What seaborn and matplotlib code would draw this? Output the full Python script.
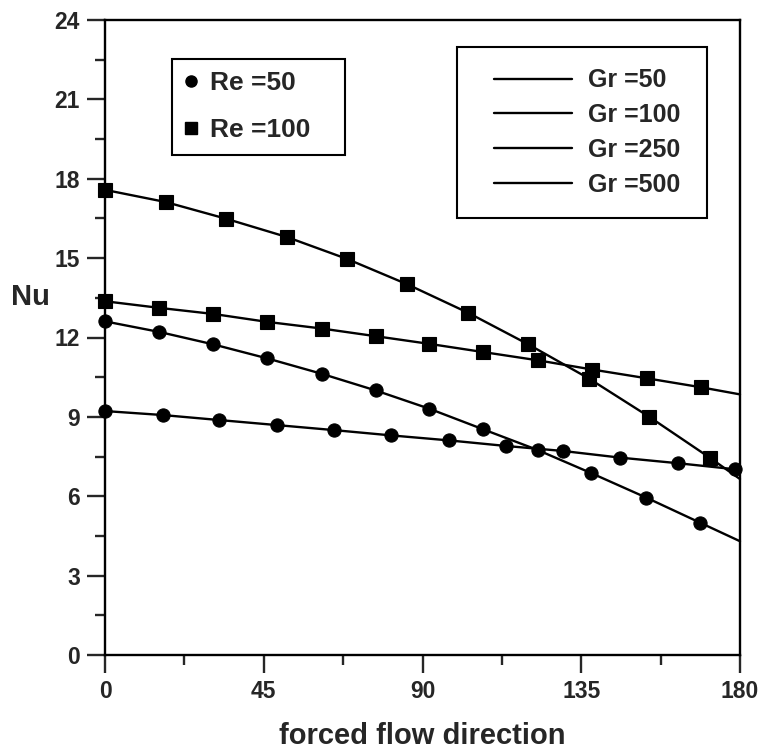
import numpy as np
import pandas as pd
import matplotlib
matplotlib.use('Agg')
import matplotlib.pyplot as plt
import seaborn as sns
from matplotlib.lines import Line2D
from matplotlib.legend_handler import HandlerLine2D
from matplotlib.ticker import MultipleLocator

# Re = 100 (squares), upper curve
sq_hi_x = [0, 17.2, 34.3, 51.5, 68.6, 85.7, 103, 120, 137.3, 154.3, 171.5, 180]
sq_hi_y = [17.58, 17.12, 16.49, 15.8, 14.97, 14.01, 12.93, 11.74, 10.44, 9.0, 7.45, 6.65]

# Re = 100 (squares), lower curve
sq_lo_x = [0, 15.4, 30.7, 46.0, 61.4, 76.7, 91.9, 107.2, 122.6, 138.1, 153.5, 168.9, 180]
sq_lo_y = [13.37, 13.12, 12.89, 12.59, 12.34, 12.05, 11.76, 11.45, 11.14, 10.79, 10.46, 10.12, 9.85]

# Re = 50 (circles), upper curve
ci_hi_x = [0, 15.4, 30.7, 46.0, 61.4, 76.7, 91.9, 107.2, 122.6, 137.9, 153.4, 168.7, 180]
ci_hi_y = [12.61, 12.21, 11.74, 11.21, 10.63, 10.0, 9.31, 8.53, 7.75, 6.87, 5.95, 5.0, 4.3]

# Re = 50 (circles), lower curve
ci_lo_x = [0, 16.3, 32.4, 48.7, 64.9, 81.1, 97.6, 113.7, 129.9, 146, 162.3, 178.6, 180]
ci_lo_y = [9.22, 9.07, 8.88, 8.69, 8.50, 8.30, 8.11, 7.90, 7.71, 7.46, 7.25, 7.02, 6.99]

re_labels = ['Re =50', 'Re =100']
gr_labels = ['Gr =50', 'Gr =100', 'Gr =250', 'Gr =500']


# legend line that leaves some empty room on its left side
class OffsetLineHandler(HandlerLine2D):
    def __init__(self, offset, **kw):
        super().__init__(**kw)
        self.offset = offset

    def get_xdata(self, legend, xdescent, ydescent, width, height, fontsize):
        xdata, xm = super().get_xdata(legend, xdescent, ydescent, width, height, fontsize)
        xdata = np.asarray(xdata, dtype=float).copy()
        xdata[0] += self.offset * fontsize
        return xdata, xm


sns.set_style('ticks')
plt.rcParams['font.family'] = ['Liberation Sans', 'DejaVu Sans']
plt.rcParams['font.weight'] = 'bold'
plt.rcParams['axes.labelweight'] = 'bold'

fig = plt.figure(figsize=(7.61, 7.51), dpi=100)
ax = fig.add_axes([105 / 761, 96 / 751, 635 / 761, 635 / 751])

curves = [
    (sq_hi_x, sq_hi_y, 's', 10),
    (sq_lo_x, sq_lo_y, 's', 10),
    (ci_hi_x, ci_hi_y, 'o', 9.5),
    (ci_lo_x, ci_lo_y, 'o', 9.5),
]
for xs, ys, mk, ms in curves:
    df = pd.DataFrame({'angle': xs, 'Nu': ys})
    sns.lineplot(data=df, x='angle', y='Nu', ax=ax, color='black', linewidth=1.7,
                 marker=mk, markersize=ms, markeredgecolor='black',
                 markeredgewidth=0.8, markevery=list(range(len(xs) - 1)),
                 clip_on=False)

ax.set_xlim(0, 180)
ax.set_ylim(0, 24)
ax.xaxis.set_major_locator(MultipleLocator(45))
ax.xaxis.set_minor_locator(MultipleLocator(22.5))
ax.yaxis.set_major_locator(MultipleLocator(3))
ax.yaxis.set_minor_locator(MultipleLocator(1.5))
ax.tick_params(which='major', direction='out', length=13, width=1.7, labelsize=16.5, pad=5)
ax.tick_params(which='minor', direction='out', length=7, width=1.7)
for sp in ax.spines.values():
    sp.set_linewidth(1.7)
    sp.set_color('black')

ax.set_xlabel('forced flow direction', fontsize=21, fontweight='bold')
ax.xaxis.set_label_coords(0.5, -0.127)
ax.xaxis.label.set_va('center')
ax.set_ylabel('Nu', fontsize=21, fontweight='bold', rotation=0, va='center', ha='center')
ax.yaxis.set_label_coords(-0.118, 0.564)

re_handles = [
    Line2D([], [], ls='none', marker='o', color='black', markersize=8),
    Line2D([], [], ls='none', marker='s', color='black', markersize=8),
]
leg1 = ax.legend(re_handles, re_labels, loc='upper left', mode='expand',
                 bbox_to_anchor=(172 / 761, 1 - 59 / 751, 173 / 761, 0),
                 bbox_transform=fig.transFigure,
                 borderaxespad=0, frameon=True, fancybox=False, edgecolor='black',
                 framealpha=1, borderpad=0.47, labelspacing=0.87, handlelength=0.5,
                 handletextpad=0.48, prop={'size': 19, 'weight': 'bold'})
leg1.get_frame().set_linewidth(1.5)
ax.add_artist(leg1)

gr_handles = [Line2D([], [], color='black', linewidth=1.7) for _ in gr_labels]
leg2 = ax.legend(gr_handles, gr_labels, loc='upper left', mode='expand',
                 bbox_to_anchor=(457 / 761, 1 - 47 / 751, 250 / 761, 0),
                 bbox_transform=fig.transFigure,
                 borderaxespad=0, frameon=True, fancybox=False, edgecolor='black',
                 framealpha=1, borderpad=0.85, labelspacing=0.43, handlelength=3.75,
                 handletextpad=0.64, prop={'size': 18, 'weight': 'bold'},
                 handler_map={Line2D: OffsetLineHandler(0.62)})
leg2.get_frame().set_linewidth(1.5)

fig.savefig('out.png', dpi=100)
